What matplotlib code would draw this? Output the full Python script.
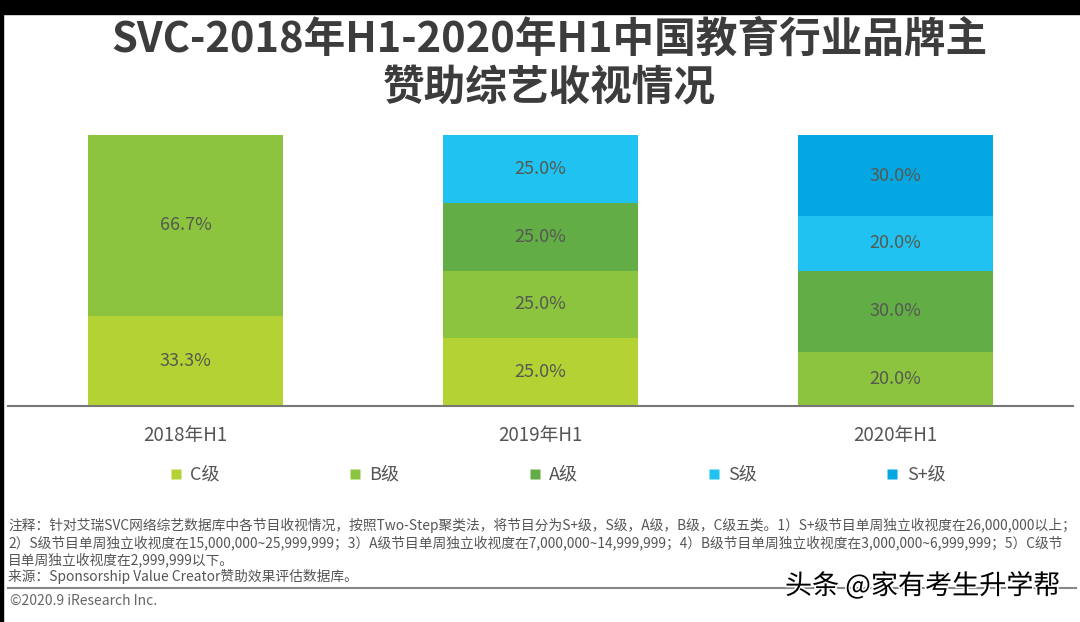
import matplotlib
matplotlib.use("Agg")
import matplotlib.pyplot as plt
import matplotlib.patheffects as pe
from matplotlib.lines import Line2D
from matplotlib.patches import Rectangle

FONT = ['Noto Sans CJK SC', 'DejaVu Sans']
plt.rcParams['font.family'] = FONT

# data
periods = ['2018年H1', '2019年H1', '2020年H1']
levels = ['C级', 'B级', 'A级', 'S级', 'S+级']
share_c = [33.3, 25.0, 0.0]
share_b = [66.7, 25.0, 20.0]
share_a = [0.0, 25.0, 30.0]
share_s = [0.0, 25.0, 20.0]
share_splus = [0.0, 0.0, 30.0]
series = [share_c, share_b, share_a, share_s, share_splus]
colors = ['#b4d233', '#8cc43f', '#63ad47', '#1fc2f0', '#05a7e2']

title_lines = ['SVC-2018年H1-2020年H1中国教育行业品牌主', '赞助综艺收视情况']
note_lines = [
    '注释：针对艾瑞SVC网络综艺数据库中各节目收视情况，按照Two-Step聚类法，将节目分为S+级，S级，A级，B级，C级五类。1）S+级节目单周独立收视度在26,000,000以上；',
    '2）S级节目单周独立收视度在15,000,000~25,999,999；3）A级节目单周独立收视度在7,000,000~14,999,999；4）B级节目单周独立收视度在3,000,000~6,999,999；5）C级节',
    '目单周独立收视度在2,999,999以下。',
    '来源：Sponsorship Value Creator赞助效果评估数据库。',
]
copyright_text = '©2020.9 iResearch Inc.'
watermark = '头条 @家有考生升学帮'

W, H = 1080, 622
fig = plt.figure(figsize=(W / 100, H / 100), dpi=100)
fig.patch.set_facecolor('white')

def fx(px):
    return px / W

def fy(py):
    return 1 - py / H

ax = fig.add_axes([fx(8), fy(406), fx(1073) - fx(8), fy(135) - fy(406)])
x = list(range(len(periods)))
bottom = [0.0] * len(periods)
for vals, col in zip(series, colors):
    ax.bar(x, vals, width=0.552, bottom=bottom, color=col, edgecolor='none')
    for xi, v, b in zip(x, vals, bottom):
        if v > 0:
            ax.text(xi, b + v / 2, f'{v:.1f}%', ha='center', va='center',
                    fontsize=13, color='#555a50', family=FONT)
    bottom = [b + v for b, v in zip(bottom, vals)]

ax.set_xlim(-0.5, 2.5)
ax.set_ylim(0, 100)
ax.set_yticks([])
ax.set_xticks(x)
ax.set_xticklabels(periods, fontsize=13.5, color='#555555')
ax.tick_params(axis='x', length=0, pad=14)
for s in ['top', 'right', 'left']:
    ax.spines[s].set_visible(False)
ax.spines['bottom'].set_color('#777777')
ax.spines['bottom'].set_linewidth(1.5)

handles = [Line2D([], [], marker='s', linestyle='none', markersize=6.5,
                  markerfacecolor=c, markeredgecolor='none') for c in colors]
fig.legend(handles, levels, loc='center', bbox_to_anchor=(fx(557), fy(475)),
           ncol=5, frameon=False, fontsize=13, labelcolor='#555555',
           handlelength=0.8, handletextpad=0.4, columnspacing=7.1)

for line, yy in zip(title_lines, [40, 88]):
    fig.text(fx(549), fy(yy), line, ha='center', va='center', fontsize=30,
             fontweight='bold', color='#3c3c3c')

note_y = [525, 543, 560, 576]
for line, yy in zip(note_lines, note_y):
    fig.text(fx(8), fy(yy), line, ha='left', va='center', fontsize=9.9,
             color='#555555')

fig.add_artist(Line2D([fx(8), fx(1076)], [fy(588), fy(588)],
                      color='#888888', linewidth=1.5))
fig.text(fx(10), fy(601), copyright_text, ha='left', va='center',
         fontsize=10, color='#666666')

fig.text(fx(785), fy(586), watermark, ha='left', va='center', fontsize=19.5,
         color='black',
         path_effects=[pe.withStroke(linewidth=2.5, foreground='white')])

# black frame edges from the screenshot
fig.add_artist(Rectangle((0, fy(14)), 1, 1 - fy(14), transform=fig.transFigure,
                         color='black', zorder=10))
fig.add_artist(Rectangle((0, 0), fx(3), 1, transform=fig.transFigure,
                         color='black', zorder=10))

fig.savefig('out.png', dpi=100, facecolor='white')
